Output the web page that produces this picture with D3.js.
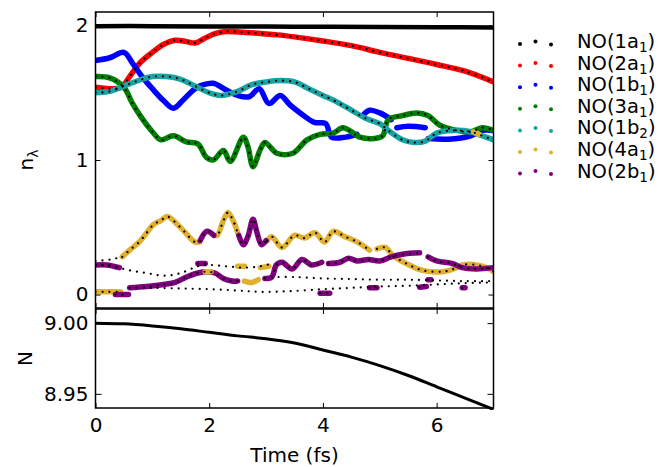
<!DOCTYPE html>
<html lang="en">
<head>
<meta charset="UTF-8">
<title>NO occupation numbers</title>
<script src="https://cdn.jsdelivr.net/npm/d3@7"></script>
<style>
    body { margin: 0; background: #fff; }
    text { font-family: "DejaVu Sans", sans-serif; fill: #000; }
    .frame { fill: none; stroke: #000; stroke-width: 1.5; }
    .axis path { display: none; }
    .axis line { stroke: #000; stroke-width: 1; }
    .axis text { font-size: 20px; font-family: "DejaVu Sans", sans-serif; }
</style>
</head>
<body>
<script>
// legend entries: NO(<orb><sub>)
var orbitals = ["1a", "2a", "1b", "3a", "1b", "4a", "2b"];
var orbitalSubs = ["1", "1", "1", "1", "2", "1", "1"];

// occupation numbers [time fs, n], null = break
var occ1a1 = [[0,1.995],[1,1.995],[2,1.993],[3,1.992],[4,1.99],[5,1.989],[6,1.987],[7,1.985]];
var occ2a1 = [[0,1.54],[0.25,1.53],[0.45,1.54],[0.6,1.62],[0.8,1.73],[1.0,1.80],[1.2,1.86],[1.4,1.89],[1.6,1.88],
    [1.75,1.87],[1.9,1.90],[2.1,1.94],[2.3,1.955],[2.6,1.95],[2.9,1.94],[3.2,1.93],[3.5,1.915],[4.0,1.885],
    [4.5,1.85],[5.0,1.80],[5.5,1.755],[6.0,1.71],[6.5,1.66],[7.0,1.58]];
var occ1b1 = [[0,1.74],[0.25,1.76],[0.5,1.80],[0.65,1.72],[0.8,1.63],[1.0,1.53],[1.2,1.44],[1.37,1.385],[1.55,1.45],
    [1.75,1.53],[1.9,1.56],[2.07,1.57],[2.3,1.52],[2.5,1.48],[2.7,1.47],[2.88,1.53],[3.05,1.42],[3.25,1.48],
    [3.42,1.41],[3.6,1.35],[3.85,1.28],[4.05,1.27],[4.15,1.17],[4.4,1.17],[4.6,1.19], null,
    [4.7,1.33],[4.82,1.37],[5.0,1.35],[5.2,1.30], null,
    [5.3,1.24],[5.5,1.25],[5.8,1.24], null,
    [5.85,1.16],[6.2,1.155],[6.6,1.18],[6.8,1.22],[7.0,1.22]];
var occ3a1 = [[0,1.62],[0.25,1.61],[0.5,1.54],[0.65,1.42],[0.8,1.32],[1.0,1.21],[1.15,1.15],[1.37,1.18],[1.6,1.135],
    [1.8,1.12],[1.95,1.02],[2.07,1.0],[2.25,1.07],[2.37,0.99],[2.6,1.17],[2.68,1.10],[2.77,0.95],[2.9,1.08],
    [2.98,1.13],[3.19,1.05],[3.47,1.05],[3.72,1.15],[3.95,1.19],[4.18,1.20],[4.35,1.24],[4.5,1.21],[4.65,1.17],
    [4.9,1.16],[5.05,1.18],[5.15,1.30],[5.4,1.33],[5.65,1.35],[5.85,1.33],[6.05,1.26],[6.35,1.22],[6.6,1.21],
    [6.8,1.24],[7.0,1.22]];
var occ1b2 = [[0,1.50],[0.25,1.51],[0.5,1.55],[0.75,1.59],[1.0,1.62],[1.25,1.62],[1.5,1.60],[1.75,1.55],[2.0,1.50],
    [2.2,1.48],[2.5,1.51],[2.75,1.56],[3.0,1.58],[3.25,1.59],[3.5,1.58],[3.75,1.53],[4.0,1.48],[4.25,1.43],
    [4.5,1.37],[4.75,1.31],[5.0,1.27],[5.15,1.22],[5.4,1.15],[5.6,1.13],[5.8,1.14],[6.0,1.20],[6.3,1.22],
    [6.6,1.21],[6.8,1.18],[7.0,1.15]];
var occ4a1 = [[0,0.02],[0.2,0.02],[0.44,0.02], null,
    [0.47,0.28],[0.6,0.33],[0.79,0.40],[1.02,0.52],[1.15,0.55],[1.26,0.58],[1.49,0.50],[1.75,0.39],[1.82,0.39], null,
    [2.08,0.44],[2.14,0.44],[2.25,0.55],[2.33,0.61],[2.42,0.55],[2.5,0.46], null,
    [3.02,0.40],[3.1,0.43],[3.28,0.35],[3.5,0.44],[3.68,0.42],[3.86,0.46],[4.03,0.39],[4.18,0.47],[4.39,0.43],
    [4.61,0.39],[4.82,0.33], null,
    [4.95,0.34],[5.1,0.35],[5.23,0.29],[5.47,0.23],[5.75,0.18],[6.1,0.17],[6.3,0.19],[6.45,0.22],[6.7,0.22],
    [6.93,0.19],[7.0,0.17]];
var occ4a1Extra = [[1.93,0.17],[2.03,0.17], null, [2.5,0.21],[2.62,0.21], null,
    [2.62,0.10],[2.75,0.09],[2.86,0.11], null, [2.9,0.20],[3.05,0.21], null, [6.65,1.21],[6.75,1.19]];
var occ2b1 = [[0,0.22],[0.2,0.22],[0.42,0.20], null,
    [0.35,0.0],[0.58,0.0], null,
    [0.6,0.05],[0.9,0.06],[1.2,0.075],[1.4,0.09],[1.6,0.13],[1.8,0.16],[1.95,0.17],[2.1,0.16],[2.25,0.12],
    [2.4,0.10],[2.5,0.10], null,
    [2.98,0.12],[3.1,0.13],[3.18,0.22],[3.28,0.24],[3.46,0.19],[3.63,0.26],[3.8,0.22],[3.98,0.24], null,
    [4.1,0.23],[4.3,0.24],[4.45,0.27],[4.6,0.25],[4.8,0.26],[5.0,0.25],[5.2,0.28],[5.4,0.30],[5.7,0.31], null,
    [5.85,0.28],[6.0,0.25],[6.28,0.23],[6.45,0.20],[6.7,0.19],[7.0,0.20]];
var occ2b1Extra = [[1.8,0.23],[1.93,0.23], null,
    [1.84,0.40],[1.96,0.47],[2.08,0.44], null,
    [2.52,0.44],[2.6,0.37],[2.68,0.43],[2.77,0.56],[2.84,0.46],[2.92,0.37],[3.0,0.40], null,
    [3.95,0.01],[4.12,0.01], null, [4.82,0.05],[4.95,0.05], null, [5.7,0.055],[5.82,0.06], null,
    [5.85,0.11],[5.9,0.11], null, [6.45,0.05],[6.5,0.05]];

// second set (black dots only) of weakly occupied orbitals
var lowA = [[0,0.25],[0.25,0.26],[0.47,0.28]];
var lowB = [[0,0.22],[0.3,0.21],[0.6,0.18],[0.9,0.16],[1.2,0.14],[1.5,0.16],[1.8,0.21],[2.0,0.22],[2.3,0.21],
    [2.6,0.20],[2.9,0.21],[3.1,0.23]];
var lowC = [[3.1,0.13],[3.5,0.13],[4.0,0.12],[4.5,0.115],[5.0,0.11],[5.5,0.11],[6.0,0.105],[6.5,0.10],[7.0,0.10]];
var lowD = [[0.6,0.05],[1.0,0.05],[1.5,0.045],[2.0,0.04],[2.5,0.03],[2.9,0.02],[3.4,0.025],[4.0,0.04],[4.5,0.05],
    [5.0,0.06],[5.5,0.065],[6.0,0.075],[6.5,0.085],[7.0,0.09]];

// total electron number N(t)
var nTime  = [0, 0.5, 1, 1.5, 2, 2.5, 3, 3.5, 4, 4.5, 5, 5.5, 6, 6.5, 7];
var nTotal = [9.000, 8.9995, 8.998, 8.996, 8.9935, 8.991, 8.989, 8.986, 8.981, 8.976, 8.970, 8.963, 8.955, 8.947, 8.939];

var xTicks = [0, 2, 4, 6];
var occTicks = [0, 1, 2];
var nTicks = [8.95, 9.00];

var w = 661, h = 467;
var left = 95.5, right = 493.5;
var topY = [308, 12], botY = [408, 309];

var colors = ["#000000", "#ff0000", "#0000ff", "#008000", "#1aa3a3", "#e0b030", "#800080"];

var svg = d3.select("body").append("svg")
    .attr("width", w)
    .attr("height", h);

var x = d3.scaleLinear().domain([0, 7]).range([left, right]);
var yOcc = d3.scaleLinear().domain([-0.1, 2.1]).range(topY);
var yN = d3.scaleLinear().domain([8.94, 9.01]).range(botY);

var clipTop = svg.append("clipPath").attr("id", "clipTop")
    .append("rect").attr("x", left).attr("y", topY[1]).attr("width", right - left).attr("height", topY[0] - topY[1]);
var clipBot = svg.append("clipPath").attr("id", "clipBot")
    .append("rect").attr("x", left).attr("y", botY[1]).attr("width", right - left + 2).attr("height", botY[0] - botY[1] + 2);

var occLine = d3.line()
    .defined(function (d) { return d !== null; })
    .x(function (d) { return x(d[0]); })
    .y(function (d) { return yOcc(d[1]); })
    .curve(d3.curveCatmullRom.alpha(0.5));

var gTop = svg.append("g").attr("clip-path", "url(#clipTop)");

var colored = [occ1a1, occ2a1, occ1b1, occ3a1, occ1b2, occ4a1, occ2b1];
colored.forEach(function (s, i) {
    gTop.append("path")
        .attr("d", occLine(s))
        .attr("fill", "none")
        .attr("stroke", colors[i])
        .attr("stroke-width", i === 0 ? 4.5 : 5.5)
        .attr("stroke-linecap", "round")
        .attr("stroke-linejoin", "round");
});
[[occ4a1Extra, 5], [occ2b1Extra, 6]].forEach(function (p) {
    gTop.append("path")
        .attr("d", occLine(p[0]))
        .attr("fill", "none")
        .attr("stroke", colors[p[1]])
        .attr("stroke-width", 5.5)
        .attr("stroke-linecap", "round")
        .attr("stroke-linejoin", "round");
});

// black dotted overlay
var dotted = [occ2a1, occ3a1, occ1b2, occ4a1, occ2b1, occ2b1Extra, lowA, lowB, lowC, lowD];
dotted.forEach(function (s) {
    gTop.append("path")
        .attr("d", occLine(s))
        .attr("fill", "none")
        .attr("stroke", "#000")
        .attr("stroke-width", 2.2)
        .attr("stroke-linecap", "round")
        .attr("stroke-dasharray", "0.01 7");
});

// bottom panel
var nLine = d3.line()
    .x(function (d, i) { return x(nTime[i]); })
    .y(function (d) { return yN(d); })
    .curve(d3.curveMonotoneX);

svg.append("g").attr("clip-path", "url(#clipBot)")
    .append("path")
    .attr("d", nLine(nTotal))
    .attr("fill", "none")
    .attr("stroke", "#000")
    .attr("stroke-width", 3);

// axes, ticks inside
function ticks(axis, tr, lab) {
    var g = svg.append("g").attr("class", "axis").attr("transform", tr).call(axis);
    if (!lab) g.selectAll("text").remove();
    return g;
}
ticks(d3.axisLeft(yOcc).tickValues(occTicks).tickSizeInner(-5).tickSizeOuter(0).tickPadding(7).tickFormat(d3.format("d")),
    "translate(" + left + ",0)", true);
ticks(d3.axisRight(yOcc).tickValues(occTicks).tickSizeInner(-5).tickSizeOuter(0), "translate(" + right + ",0)", false);
ticks(d3.axisBottom(x).tickValues(xTicks).tickSizeInner(-5).tickSizeOuter(0), "translate(0," + topY[0] + ")", false);
ticks(d3.axisTop(x).tickValues(xTicks).tickSizeInner(-5).tickSizeOuter(0), "translate(0," + topY[1] + ")", false);

ticks(d3.axisLeft(yN).tickValues(nTicks).tickSizeInner(-6).tickSizeOuter(0).tickPadding(7).tickFormat(d3.format(".2f")),
    "translate(" + left + ",0)", true);
ticks(d3.axisRight(yN).tickValues(nTicks).tickSizeInner(-6).tickSizeOuter(0), "translate(" + right + ",0)", false);
ticks(d3.axisBottom(x).tickValues(xTicks).tickSizeInner(-5).tickSizeOuter(0).tickPadding(10).tickFormat(d3.format("d")),
    "translate(0," + botY[0] + ")", true);
ticks(d3.axisTop(x).tickValues(xTicks).tickSizeInner(-5).tickSizeOuter(0), "translate(0," + botY[1] + ")", false);

svg.append("rect").attr("class", "frame")
    .attr("x", left).attr("y", topY[1]).attr("width", right - left).attr("height", topY[0] - topY[1]);
svg.append("rect").attr("class", "frame")
    .attr("x", left).attr("y", botY[1]).attr("width", right - left).attr("height", botY[0] - botY[1]);

// axis labels
svg.append("text")
    .attr("x", (left + right) / 2).attr("y", 462)
    .attr("text-anchor", "middle").attr("font-size", "20px")
    .text("Time (fs)");

var ny = svg.append("text")
    .attr("transform", "translate(33," + ((topY[0] + topY[1]) / 2) + ") rotate(-90)")
    .attr("text-anchor", "middle").attr("font-size", "20px");
ny.append("tspan").text("n");
ny.append("tspan").attr("font-size", "14px").attr("dy", 5).text("\u03bb");

svg.append("text")
    .attr("transform", "translate(32," + ((botY[0] + botY[1]) / 2) + ") rotate(-90)")
    .attr("text-anchor", "middle").attr("font-size", "20px")
    .text("N");

// legend
var leg = svg.append("g");
orbitals.forEach(function (o, i) {
    var base = 48 + i * 21.6;
    [[520, 1], [535.5, -1.5], [551, 1.5]].forEach(function (p) {
        leg.append("circle")
            .attr("cx", p[0]).attr("cy", base - 5 + p[1])
            .attr("r", 2).attr("fill", colors[i]);
    });
    var t = leg.append("text").attr("x", 577).attr("y", base).attr("font-size", "19.5px");
    t.append("tspan").text("NO(" + o);
    t.append("tspan").attr("font-size", "13.5px").attr("dy", 4).text(orbitalSubs[i]);
    t.append("tspan").attr("dy", -4).text(")");
});
</script>
</body>
</html>
